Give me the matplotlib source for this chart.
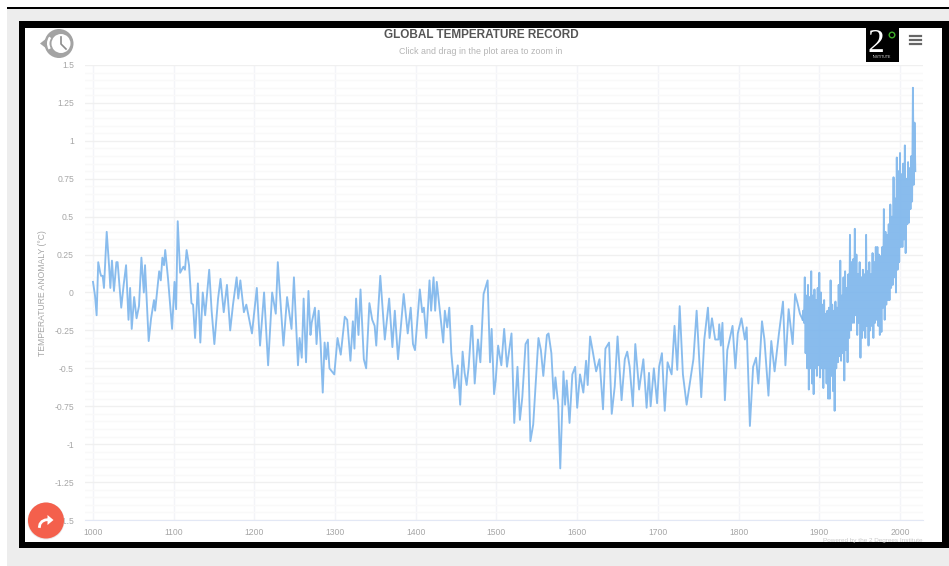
import matplotlib
matplotlib.use('Agg')
import matplotlib.pyplot as plt
from matplotlib.patches import Rectangle, Circle, Wedge, Polygon

plt.rcParams['font.family'] = ['Liberation Sans', 'DejaVu Sans']

x_ticks = [1000, 1100, 1200, 1300, 1400, 1500, 1600, 1700, 1800, 1900, 2000]
y_ticks = [1.5, 1.25, 1, 0.75, 0.5, 0.25, 0, -0.25, -0.5, -0.75, -1, -1.25, -1.5]
y_labels = ['1.5', '1.25', '1', '0.75', '0.5', '0.25', '0', '-0.25', '-0.5', '-0.75', '-1', '-1.25', '-1.5']
y_minor = [-1.45, -1.4, -1.35, -1.3, -1.2, -1.15, -1.1, -1.05, -0.95, -0.9, -0.85, -0.8, -0.7, -0.65, -0.6, -0.55,
           -0.45, -0.4, -0.35, -0.3, -0.2, -0.15, -0.1, -0.05, 0.05, 0.1, 0.15, 0.2, 0.3, 0.35, 0.4, 0.45,
           0.55, 0.6, 0.65, 0.7, 0.8, 0.85, 0.9, 0.95, 1.05, 1.1, 1.15, 1.2, 1.3, 1.35, 1.4, 1.45]

# proxy record
years_1000 = [1000, 1002.5, 1004.5, 1006.5, 1009, 1010, 1012, 1013.6, 1017, 1020, 1021.5, 1023.5, 1026, 1029, 1030.5,
              1035, 1038, 1041, 1044, 1046, 1048, 1051, 1054, 1057, 1060, 1063, 1064.5, 1069, 1072, 1075.6, 1077,
              1082, 1084, 1086, 1088, 1089.5, 1093, 1098, 1101, 1103, 1105, 1108, 1112, 1114, 1116, 1119, 1122,
              1124, 1126.5, 1130, 1133, 1136, 1139, 1144, 1147, 1150.4, 1155, 1158, 1162, 1166, 1170, 1173.5, 1178,
              1180, 1182.6, 1187, 1190, 1197, 1203, 1207, 1212, 1217, 1222, 1226.5, 1229, 1236, 1240.5, 1246, 1249,
              1254, 1256, 1258.7, 1261, 1264, 1267, 1269.5, 1271, 1275, 1277, 1279.6, 1282, 1284.7, 1287, 1289, 1291,
              1293, 1299]
temps_1000 = [0.07, -0.02, -0.15, 0.2, 0.13, 0.11, 0.11, 0.03, 0.4, 0.17, 0.03, 0.21, 0.01, 0.2, 0.2,
              -0.1, 0.05, 0.18, -0.18, 0.03, -0.24, -0.03, -0.17, -0.09, 0.23, 0, 0.18, -0.32, -0.17, -0.05, -0.12,
              0.14, 0.08, 0.23, 0.18, 0.28, 0.09, -0.24, 0.07, -0.11, 0.47, 0.13, 0.17, 0.15, 0.28, 0.18, -0.07,
              -0.08, -0.3, 0.06, -0.33, 0, -0.15, 0.15, -0.12, -0.34, -0.04, 0.09, -0.13, 0.05, -0.25, -0.08, 0.1,
              -0.04, 0.08, -0.13, -0.08, -0.27, 0.03, -0.35, 0, -0.48, 0, -0.14, 0.2, -0.35, -0.03, -0.24, 0.1,
              -0.48, -0.3, -0.43, -0.04, -0.46, 0.01, -0.28, -0.2, -0.1, -0.34, -0.12, -0.33, -0.66, -0.33, -0.44, -0.33,
              -0.5, -0.54]

years_1300 = [1303, 1307, 1312, 1315, 1319, 1322, 1324, 1326, 1329, 1331.5, 1335.6, 1338.5, 1342.5, 1346, 1349, 1351,
              1353.5, 1356, 1361.6, 1363, 1367, 1371, 1374, 1378, 1385, 1390, 1393.7, 1396.5, 1399, 1405, 1408, 1410,
              1413, 1417, 1419, 1422, 1424, 1426, 1434, 1436, 1439, 1441.5, 1444, 1448, 1452, 1455, 1458, 1460.5,
              1463, 1465.5, 1469, 1470, 1473, 1477, 1480, 1484, 1489, 1492, 1494, 1497, 1499]
temps_1300 = [-0.3, -0.41, -0.16, -0.18, -0.45, -0.19, -0.37, -0.04, -0.28, 0.02, -0.44, -0.5, -0.07, -0.18, -0.22, -0.35,
              -0.11, 0.11, -0.31, -0.24, -0.04, -0.36, -0.12, -0.44, -0.01, -0.27, -0.1, -0.34, -0.38, 0.02, -0.13, -0.1,
              -0.3, 0.08, -0.12, 0.1, -0.12, 0.07, -0.33, -0.12, -0.23, -0.1, -0.4, -0.63, -0.48, -0.74, -0.39, -0.53,
              -0.61, -0.49, -0.22, -0.22, -0.6, -0.31, -0.46, -0.01, 0.08, -0.46, -0.24, -0.67, -0.58]

years_1500 = [1502, 1506, 1509.5, 1513, 1518.6, 1522, 1526, 1529, 1532, 1536, 1539, 1542, 1545.5, 1552, 1555, 1558,
              1562.5, 1564.5, 1568, 1571, 1573, 1576.5, 1579, 1583, 1585, 1587, 1590.5, 1594, 1597.5, 1600, 1603.5,
              1607.6, 1611, 1613, 1616, 1619, 1623.5, 1627.6, 1632, 1635, 1639.5, 1642.8, 1646.5, 1650, 1655, 1659,
              1662, 1665, 1669, 1672, 1676.7, 1682, 1686, 1689, 1691, 1695, 1699, 1701.5, 1705, 1708.5, 1712, 1717,
              1720.6, 1724, 1727, 1731, 1735.6, 1739, 1744, 1748, 1753.7, 1757.5, 1762, 1764, 1767, 1771, 1775, 1776,
              1778, 1780, 1783, 1786, 1792.5, 1796, 1799, 1803.5, 1807.8, 1810, 1814, 1818, 1821.6, 1824.5, 1829,
              1832, 1837, 1840.5, 1844.6, 1850, 1855, 1858, 1862, 1867, 1870, 1873, 1876, 1879.5]
temps_1500 = [-0.35, -0.48, -0.24, -0.49, -0.27, -0.86, -0.49, -0.84, -0.69, -0.34, -0.31, -0.98, -0.87, -0.3, -0.38, -0.55,
              -0.28, -0.27, -0.4, -0.7, -0.56, -0.74, -1.16, -0.52, -0.74, -0.58, -0.86, -0.54, -0.49, -0.76, -0.54,
              -0.66, -0.45, -0.61, -0.29, -0.38, -0.52, -0.44, -0.77, -0.37, -0.33, -0.8, -0.62, -0.29, -0.71, -0.44,
              -0.39, -0.49, -0.75, -0.34, -0.64, -0.44, -0.76, -0.53, -0.75, -0.5, -0.73, -0.49, -0.4, -0.78, -0.46, -0.54,
              -0.22, -0.51, -0.09, -0.54, -0.74, -0.62, -0.44, -0.12, -0.69, -0.31, -0.1, -0.3, -0.17, -0.31, -0.31, -0.21,
              -0.35, -0.2, -0.71, -0.38, -0.22, -0.5, -0.27, -0.17, -0.31, -0.23, -0.88, -0.49, -0.43, -0.6, -0.19,
              -0.31, -0.68, -0.32, -0.52, -0.27, -0.06, -0.48, -0.11, -0.34, -0.01, -0.07, -0.14, -0.18]

# instrumental part, the band of fast swings
band_years = [1880, 1882, 1884, 1886, 1888, 1890, 1892, 1894, 1896, 1898, 1900, 1902, 1904, 1906, 1908, 1910, 1912, 1914,
              1916, 1918, 1920, 1922, 1924, 1926, 1928, 1930, 1932, 1934, 1936, 1938, 1940, 1942, 1944, 1946, 1948, 1950,
              1952, 1954, 1956, 1958, 1960, 1962, 1964, 1966, 1968, 1970, 1972, 1974, 1976, 1978, 1980, 1982, 1984, 1986,
              1988, 1990, 1992, 1994, 1996, 1998, 2000, 2002, 2004, 2006, 2008, 2010, 2012, 2014, 2016, 2018]
band_high = [-0.12, 0.1, -0.02, 0.05, -0.03, 0.14, -0.02, 0.02, -0.05, 0.03, 0.13, 0, -0.08, -0.05, -0.14, -0.12, -0.1, 0.08,
             -0.08, -0.12, -0.06, -0.1, 0.05, 0.21, -0.02, 0.1, 0.14, 0.03, 0.12, 0.38, 0.2, 0.22, 0.42, 0.25, 0.12, 0.2,
             0.1, 0.15, 0.12, 0.38, 0.14, 0.2, 0.12, 0.26, 0.2, 0.3, 0.3, 0.25, 0.24, 0.3, 0.55, 0.4, 0.38, 0.45,
             0.58, 0.5, 0.76, 0.62, 0.89, 0.8, 0.92, 0.78, 0.85, 0.97, 0.75, 0.86, 0.82, 0.9, 1.35, 1.12]
band_low = [-0.2, -0.4, -0.5, -0.64, -0.5, -0.6, -0.67, -0.5, -0.55, -0.48, -0.56, -0.5, -0.63, -0.5, -0.6, -0.7, -0.7, -0.55,
            -0.65, -0.78, -0.5, -0.46, -0.42, -0.45, -0.4, -0.58, -0.38, -0.46, -0.3, -0.25, -0.2, -0.2, -0.15, -0.28, -0.2, -0.43,
            -0.3, -0.25, -0.3, -0.22, -0.35, -0.25, -0.22, -0.3, -0.2, -0.18, -0.22, -0.28, -0.26, -0.1, -0.18, -0.08, -0.05, -0.05,
            0.03, 0.05, 0.1, 0, 0.15, 0.2, 0.3, 0.3, 0.35, 0.26, 0.45, 0.46, 0.55, 0.6, 0.71, 0.8]

line_color = '#7cb5ec'

fig = plt.figure(figsize=(9.49, 5.66), dpi=100, facecolor='white')

# screenshot frame, in pixels of the picture
bg = fig.add_axes([0, 0, 1, 1])
bg.set_xlim(0, 949)
bg.set_ylim(566, 0)
bg.axis('off')
bg.add_patch(Rectangle((7, 9), 942, 557, facecolor='#ededed', edgecolor='none'))
bg.add_patch(Rectangle((7, 7), 942, 2, facecolor='black', edgecolor='none'))
bg.add_patch(Rectangle((19, 21), 930, 527, facecolor='black', edgecolor='none'))
bg.add_patch(Rectangle((25.5, 27.5), 917, 514.5, facecolor='white', edgecolor='none'))

ax = fig.add_axes([85 / 949, 1 - 520 / 566, 838 / 949, 455 / 566])
ax.patch.set_alpha(0)
ax.set_xlim(990.1, 2028.5)
ax.set_ylim(-1.5, 1.5)

ax.set_xticks(x_ticks)
ax.set_yticks(y_ticks)
ax.set_yticklabels(y_labels)
ax.set_yticks(y_minor, minor=True)
ax.tick_params(axis='both', which='both', length=0)
ax.tick_params(axis='x', labelsize=6.2, labelcolor='#a6a6a6', pad=6)
ax.tick_params(axis='y', labelsize=6.2, labelcolor='#a6a6a6', pad=8)
ax.grid(True, which='major', axis='y', color='#f0f0f0', linewidth=1)
ax.grid(True, which='major', axis='x', color='#f3f4f8', linewidth=1)
ax.grid(True, which='minor', axis='y', color='#f9f9f9', linewidth=1)
ax.set_axisbelow(True)
for side in ['top', 'right', 'left']:
    ax.spines[side].set_visible(False)
ax.spines['bottom'].set_color('#e3e8f5')

ax.plot(years_1000 + years_1300 + years_1500, temps_1000 + temps_1300 + temps_1500,
        color=line_color, linewidth=1.35, alpha=0.9, solid_joinstyle='round')

# every pair goes up then down, one year apart
band_x = [1879.5]
band_y = [-0.18]
for i in range(len(band_years)):
    band_x.append(band_years[i])
    band_y.append(band_high[i])
    band_x.append(band_years[i] + 1)
    band_y.append(band_low[i])
ax.plot(band_x, band_y, color=line_color, linewidth=1.35, alpha=0.9)

# top texts and icons
bg2 = fig.add_axes([0, 0, 1, 1])
bg2.set_xlim(0, 949)
bg2.set_ylim(566, 0)
bg2.axis('off')
bg2.text(481, 35.5, 'GLOBAL TEMPERATURE RECORD', fontsize=8.5, fontweight='bold', color='#555555', ha='center', va='center')
bg2.text(481, 51, 'Click and drag in the plot area to zoom in', fontsize=6.4, color='#b5b5b5', ha='center', va='center')
bg2.text(923, 540.5, 'Powered by the 2 Degrees Institute', fontsize=4.6, color='#c8c8c8', ha='right', va='center')
bg2.text(43, 293, 'TEMPERATURE ANOMALY (°C)', fontsize=6.2, color='#a6a6a6', rotation=90, ha='center', va='center')

# clock icon
bg2.add_patch(Circle((59, 43.5), 14.5, facecolor='#a3a3a3', edgecolor='none'))
bg2.add_patch(Circle((61, 43.5), 9.5, facecolor='white', edgecolor='none'))
bg2.add_patch(Wedge((59, 43.5), 12, 150, 215, width=2.5, facecolor='white', edgecolor='none'))
bg2.plot([61, 61, 66], [37, 44, 49], color='#8c8c8c', linewidth=1.2)
bg2.add_patch(Polygon([(40, 43.5), (47, 38), (47, 49)], facecolor='#a3a3a3', edgecolor='none'))

# logo
bg2.add_patch(Rectangle((866, 28), 33, 34, facecolor='black', edgecolor='none'))
bg2.text(876, 43.5, '2', fontsize=24, family='Liberation Serif', color='white', ha='center', va='center')
bg2.add_patch(Circle((892, 35), 2.8, facecolor='none', edgecolor='#3fae2a', linewidth=1))
bg2.text(882, 57.5, 'INSTITUTE', fontsize=2.6, color='#dddddd', ha='center', va='center')

# menu icon
for menu_y in [35.5, 39.8, 44]:
    bg2.plot([910, 921.5], [menu_y, menu_y], color='#666666', linewidth=1.6)

# share button
bg2.add_patch(Circle((46, 521), 18.5, facecolor='#e8e8e8', edgecolor='none'))
bg2.add_patch(Circle((46, 520.5), 18, facecolor='#f4604c', edgecolor='none'))
bg2.plot([39.5, 40, 42, 45, 49], [526.5, 524, 521.5, 520, 519.5], color='white', linewidth=2)
bg2.add_patch(Polygon([(47.5, 515), (53.5, 520), (47.5, 525)], facecolor='white', edgecolor='none'))

fig.savefig('out.png', dpi=100)
